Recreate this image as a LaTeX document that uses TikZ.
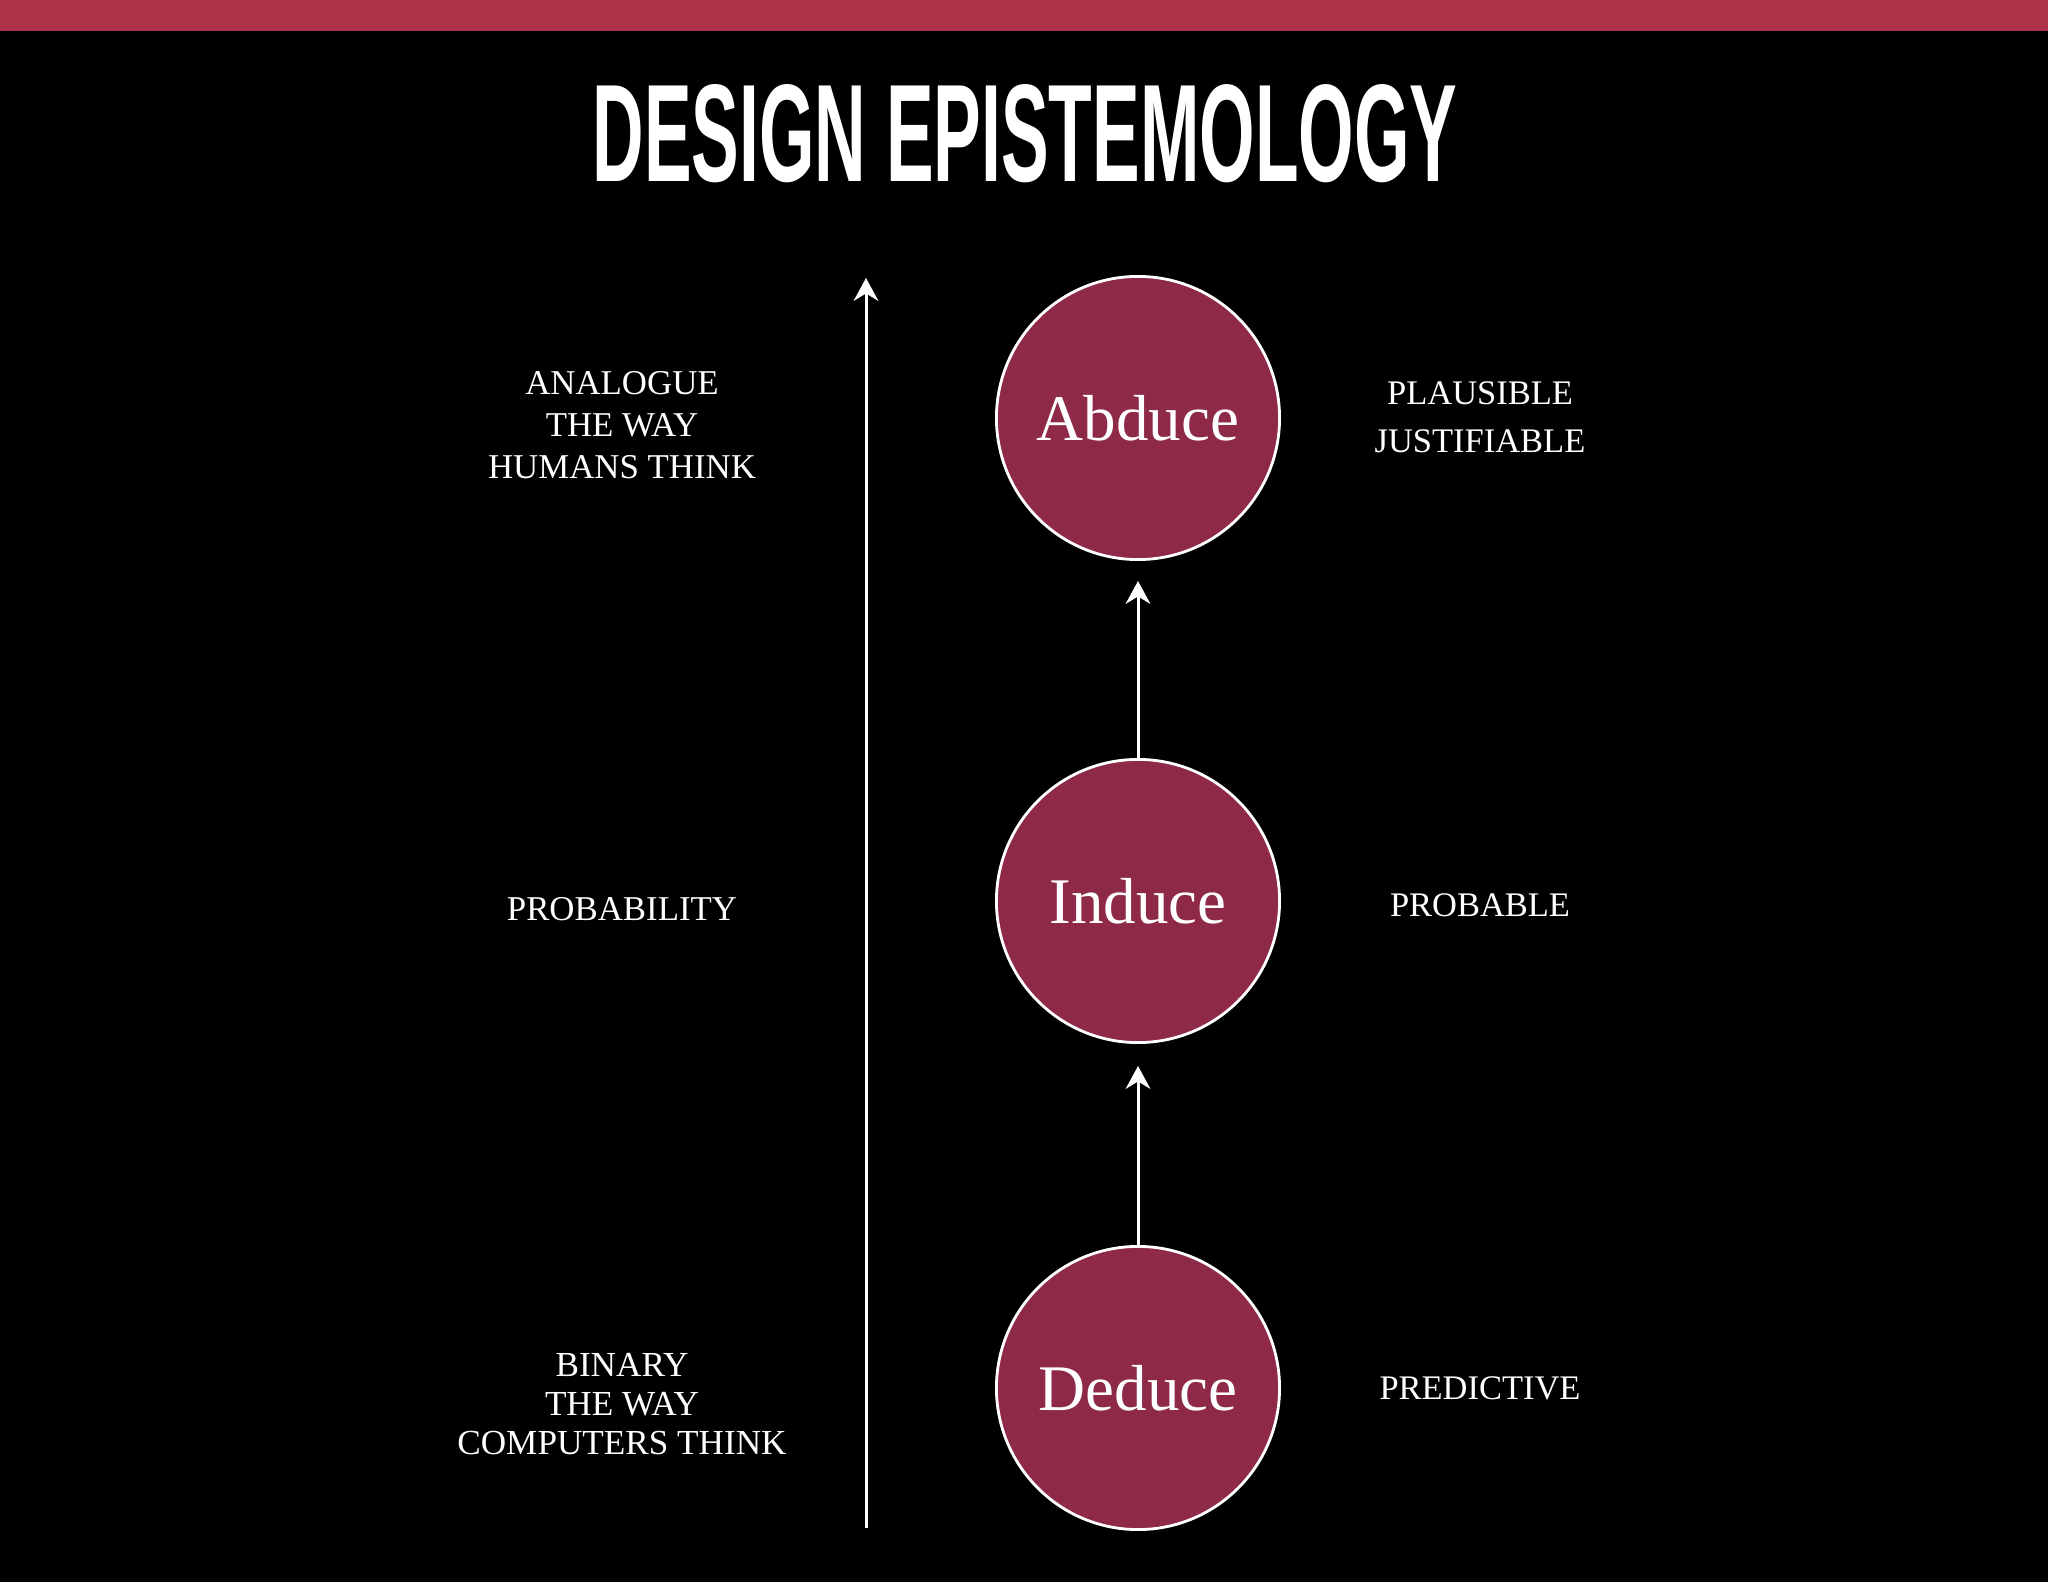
\documentclass[tikz,border=0pt]{standalone}
\usepackage{fontspec}
\setmainfont{Liberation Serif}
\newfontfamily\titlefont{Liberation Sans}
\usetikzlibrary{calc, arrows.meta}
\definecolor{barred}{HTML}{AB3249}
\definecolor{circred}{HTML}{8E2A47}

\begin{document}
\begin{tikzpicture}[x=0.01cm, y=-0.01cm,
    stage/.style={circle, draw=white, line width=0.8pt, fill=circred, minimum size=2.83cm, inner sep=0pt, text=white, font=\fontsize{18.5}{20}\selectfont},
    side/.style={align=center, text=white, font=\fontsize{9.9}{12}\selectfont},
    up/.style={white, line width=0.85pt, -{Stealth[length=6.5pt, width=7pt]}}]

    % background and top band
    \fill[black] (0, 0) rectangle (2048, 1582);
    \fill[barred] (0, 0) rectangle (2048, 31);

    \node[text=white] (title) at (1025, 134) {\scalebox{0.514}[1]{\titlefont\bfseries\fontsize{39.5}{39.5}\selectfont DESIGN EPISTEMOLOGY}};

    % the three stages
    \node[stage] (abduce) at (1138, 418) {Abduce};
    \node[stage] (induce) at (1138, 901) {Induce};
    \node[stage] (deduce) at (1138, 1388) {Deduce};

    \draw[up](induce.north) -- ($(abduce.south) + (0, 20)$);
    \draw[up](deduce.north) -- ($(induce.south) + (0, 22)$);

    % long axis
    \coordinate (axis_bot) at (866, 1528);
    \coordinate (axis_top) at (866, 278);
    \draw[up](axis_bot) -- (axis_top);

    \node[side] (analogue) at (622, 425) {ANALOGUE\\THE WAY\\HUMANS THINK};
    \node[side] (probability) at (622, 909) {PROBABILITY};
    \node[side, font=\fontsize{10}{11}\selectfont] (binary) at (622, 1404) {BINARY\\THE WAY\\COMPUTERS THINK};

    \node[side, font=\fontsize{9.8}{13.6}\selectfont] (plausible) at (1480, 417) {PLAUSIBLE\\JUSTIFIABLE};
    \node[side, font=\fontsize{9.8}{12}\selectfont] (probable) at (1480, 905) {PROBABLE};
    \node[side, font=\fontsize{9.8}{12}\selectfont] (predictive) at (1480, 1388) {PREDICTIVE};

\end{tikzpicture}
\end{document}
